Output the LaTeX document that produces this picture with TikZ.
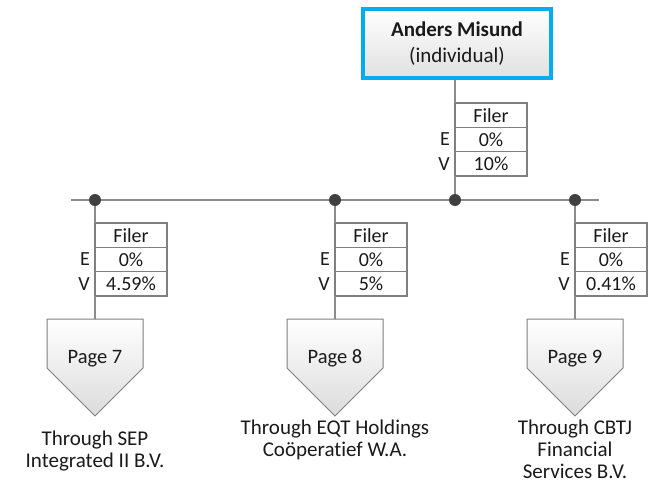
\documentclass[tikz,border=0pt]{standalone}
\usepackage{fontspec}
\setmainfont{Carlito}[Ligatures={NoCommon}]
\usetikzlibrary{positioning}
\definecolor{lgray}{HTML}{8C8C8C}
\definecolor{bgray}{HTML}{7F7F7F}
\definecolor{dotc}{HTML}{404040}
\definecolor{cyanb}{HTML}{00AEEF}
\definecolor{txt}{HTML}{1A1A1A}
\begin{document}
\begin{tikzpicture}[x=1pt,y=-1pt,
  every node/.style={font=\fontsize{20}{22}\selectfont, text=txt},
  topbox/.style={draw=cyanb, line width=4pt, top color=white, bottom color=black!12,
    minimum width=188pt, minimum height=69pt, inner sep=0pt, align=center,
    font=\fontsize{21}{25}\selectfont},
  cell/.style={draw=bgray, line width=1.2pt, fill=white, minimum width=72pt,
    minimum height=24.3pt, inner sep=0pt, outer sep=0pt},
  evlbl/.style={inner sep=0pt, anchor=east},
  conn/.style={draw=lgray, line width=1.6pt},
  busdot/.style={circle, fill=dotc, minimum size=12pt, inner sep=0pt},
  pent/.style={draw=bgray, line width=1pt, top color=white, bottom color=black!14},
  pagetxt/.style={inner sep=0pt, anchor=base, font=\fontsize{20.5}{22}\selectfont},
  thru/.style={inner sep=0pt, anchor=base, align=center, font=\fontsize{21}{21.7}\selectfont}
]
\useasboundingbox (0,0) rectangle (655,487);

% top entity
\node[topbox] (am) at (457,43.5) {\textbf{Anders Misund}\\[1pt](individual)};

% top table
\node[cell, anchor=north west] (tf) at (455,103) {Filer};
\node[cell, below=0pt of tf] (te) {0\%};
\node[cell, below=0pt of te] (tv) {10\%};
\node[evlbl] at ([xshift=-5pt]te.west) {E};
\node[evlbl] at ([xshift=-5pt]tv.west) {V};

% bus
\coordinate (busL) at (71,200);
\coordinate (busR) at (599,200);
\draw[conn] (busL) -- (busR);
\draw[conn] (tf.north west |- am.south) -- (tf.north west);
\node[busdot] (d1) at (95,200) {};
\node[busdot] (d2) at (335,200) {};
\node[busdot] (d3) at (455,200) {};
\node[busdot] (d4) at (575,200) {};
\draw[conn] (tv.south west) -- (d3);

% branch tables
\foreach \n/\x/\v in {a/95/4.59\%, b/335/5\%, c/575/0.41\%}{
  \node[cell, anchor=north west] (\n f) at (\x,223) {Filer};
  \node[cell, below=0pt of \n f] (\n e) {0\%};
  \node[cell, below=0pt of \n e] (\n v) {\v};
  \node[evlbl] at ([xshift=-5pt]\n e.west) {E};
  \node[evlbl] at ([xshift=-5pt]\n v.west) {V};
  \coordinate (\n top) at (\x,319);
  \path[pent] (\x-48,319) -- (\x+48,319) -- (\x+48,368) -- (\x,416) -- (\x-48,368) -- cycle;
}
\draw[conn] (d1) -- (af.north west);
\draw[conn] (d2) -- (bf.north west);
\draw[conn] (d4) -- (cf.north west);
\draw[conn] (av.south west) -- (atop);
\draw[conn] (bv.south west) -- (btop);
\draw[conn] (cv.south west) -- (ctop);

\node[pagetxt] (pg7) at (95,363) {Page 7};
\node[pagetxt] (pg8) at (335,363) {Page 8};
\node[pagetxt] (pg9) at (575,363) {Page 9};

\node[thru] (t7) at (95,467) {Through SEP\\Integrated II B.V.};
\node[thru] (t8) at (335,456) {Through EQT Holdings\\Coöperatief W.A.};
\node[thru] (t9) at (575,478) {Through CBTJ\\Financial\\Services B.V.};
\end{tikzpicture}
\end{document}
